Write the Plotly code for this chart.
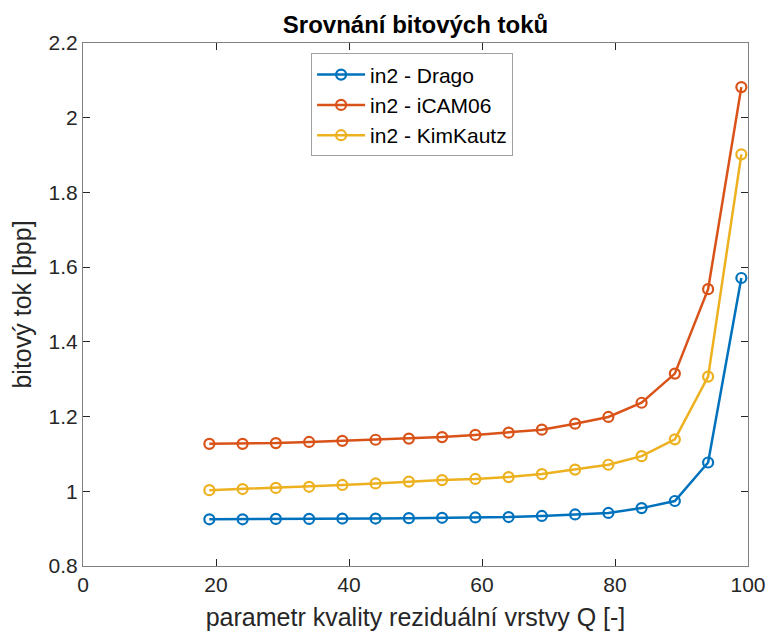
import plotly.graph_objects as go

q = [19, 24, 29, 34, 39, 44, 49, 54, 59, 64, 69, 74, 79, 84, 89, 94, 99]
drago = [0.925, 0.925, 0.926, 0.926, 0.927, 0.927, 0.928, 0.929, 0.930, 0.931, 0.934, 0.938, 0.942, 0.955, 0.974, 1.077, 1.571]
icam06 = [1.127, 1.127, 1.129, 1.132, 1.135, 1.138, 1.141, 1.145, 1.151, 1.157, 1.165, 1.181, 1.199, 1.237, 1.315, 1.541, 2.082]
kimkautz = [1.003, 1.006, 1.009, 1.012, 1.017, 1.021, 1.026, 1.030, 1.033, 1.038, 1.046, 1.058, 1.071, 1.094, 1.139, 1.307, 1.902]

names = ["in2 - Drago", "in2 - iCAM06", "in2 - KimKautz"]
colors = ["#0072BD", "#D95319", "#EDB120"]

fig = go.Figure()
for name, ys, c in zip(names, [drago, icam06, kimkautz], colors):
    fig.add_trace(go.Scatter(
        x=q, y=ys, name=name, mode="lines+markers",
        line=dict(color=c, width=2.5),
        marker=dict(symbol="circle-open", size=10, color=c, line=dict(width=2.2, color=c)),
    ))

font = "Liberation Sans, Arial, Helvetica, sans-serif"
axis_common = dict(
    showgrid=False, zeroline=False, showline=True, linecolor="#808080", linewidth=1,
    mirror="ticks", ticks="inside", ticklen=7, tickcolor="#262626", tickwidth=1,
    tickfont=dict(size=21, color="#262626", family=font), automargin=False,
)
fig.update_layout(
    width=768, height=633,
    margin=dict(l=83, r=20, t=43, b=67),
    paper_bgcolor="white", plot_bgcolor="white",
    title=dict(text="<b>Srovnání bitových toků</b>", x=0.5, xanchor="center",
               xref="paper", y=0.961, yanchor="middle",
               font=dict(size=24, color="black", family=font)),
    xaxis=dict(range=[0, 100], tickvals=[0, 20, 40, 60, 80, 100],
               title=dict(text="parametr kvality reziduální vrstvy Q [-]", standoff=13,
                          font=dict(size=25, color="#262626", family=font)),
               **axis_common),
    yaxis=dict(range=[0.8, 2.2], tickvals=[0.8, 1, 1.2, 1.4, 1.6, 1.8, 2, 2.2],
               ticktext=["0.8", "1", "1.2", "1.4", "1.6", "1.8", "2", "2.2"],
               title=dict(text="bitový tok [bpp]", standoff=9,
                          font=dict(size=25, color="#262626", family=font)),
               **axis_common),
    legend=dict(x=0.343, y=0.98, xanchor="left", yanchor="top",
                bordercolor="#a0a0a0", borderwidth=1, bgcolor="white",
                font=dict(size=21, color="black", family=font),
                tracegroupgap=0, itemwidth=48),
    showlegend=True,
)

fig.write_html("out.html")
